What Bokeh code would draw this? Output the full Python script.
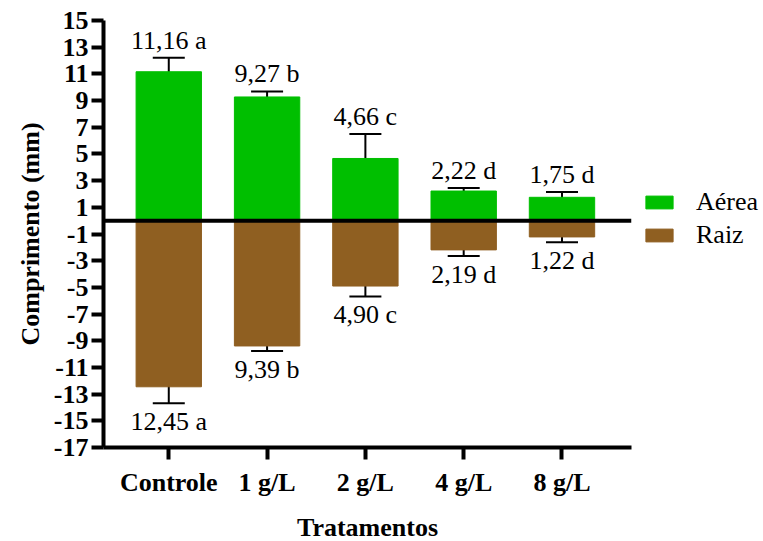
from bokeh.plotting import figure
from bokeh.models import (ColumnDataSource, Range1d, FixedTicker, Span, Whisker,
                          TeeHead, Legend, LegendItem)
from bokeh.core.properties import value
from bokeh.embed import file_html
from bokeh.resources import INLINE

categories = ["Controle", "1 g/L", "2 g/L", "4 g/L", "8 g/L"]
aerea = [11.16, 9.27, 4.66, 2.22, 1.75]
aerea_err = [1.04, 0.41, 1.83, 0.23, 0.40]
aerea_letters = ["a", "b", "c", "d", "d"]
raiz = [-12.45, -9.39, -4.90, -2.19, -1.22]
raiz_err = [1.23, 0.37, 0.78, 0.45, 0.39]
raiz_letters = ["a", "b", "c", "d", "d"]
y_ticks = [-17, -15, -13, -11, -9, -7, -5, -3, -1, 1, 3, 5, 7, 9, 11, 13, 15]
y_tick_labels = ["-17", "-15", "-13", "-11", "-9", "-7", "-5", "-3", "-1",
                 "1", "3", "5", "7", "9", "11", "13", "15"]

GREEN = "#00bf00"
BROWN = "#8f5f21"
SERIF = "Liberation Serif"

xpos = list(range(len(categories)))

def fmt(v, letter):
    return ("%.2f" % abs(v)).replace(".", ",") + " " + letter

src_a = ColumnDataSource(dict(
    x=xpos, top=aerea,
    upper=[v + e for v, e in zip(aerea, aerea_err)],
    lower=[v - e for v, e in zip(aerea, aerea_err)],
    label=[fmt(v, l) for v, l in zip(aerea, aerea_letters)],
))
src_r = ColumnDataSource(dict(
    x=xpos, top=raiz,
    upper=[v + e for v, e in zip(raiz, raiz_err)],
    lower=[v - e for v, e in zip(raiz, raiz_err)],
    label=[fmt(v, l) for v, l in zip(raiz, raiz_letters)],
))

p = figure(frame_width=528, frame_height=427,
           x_range=Range1d(-0.664, 4.707), y_range=Range1d(-17, 15),
           output_backend="svg", toolbar_location=None,
           min_border_left=103, min_border_top=20, min_border_right=130,
           min_border_bottom=92)
p.background_fill_color = None
p.border_fill_color = "white"
p.outline_line_color = None
p.xgrid.visible = False
p.ygrid.visible = False

ra = p.vbar(x="x", top="top", bottom=0, width=0.665, source=src_a,
            fill_color=GREEN, line_color=GREEN)
rr = p.vbar(x="x", top="top", bottom=0, width=0.665, source=src_r,
            fill_color=BROWN, line_color=BROWN)

p.add_layout(Span(location=0, dimension="width", line_color="black", line_width=4))

for src in (src_a, src_r):
    w = Whisker(base="x", upper="upper", lower="lower", source=src,
                line_color="black", line_width=2,
                upper_head=TeeHead(size=32, line_width=2, line_color="black"),
                lower_head=TeeHead(size=32, line_width=2, line_color="black"))
    p.add_layout(w)

p.text(x="x", y="upper", text="label", source=src_a,
       text_font=value(SERIF), text_font_size="26px", text_color="black",
       text_align="center", text_baseline="bottom", y_offset=-3)
p.text(x="x", y="lower", text="label", source=src_r,
       text_font=value(SERIF), text_font_size="26px", text_color="black",
       text_align="center", text_baseline="top", y_offset=4)

# axes
p.xaxis.ticker = FixedTicker(ticks=xpos)
p.xaxis.major_label_overrides = {i: c for i, c in zip(xpos, categories)}
p.yaxis.ticker = FixedTicker(ticks=y_ticks)
p.yaxis.major_label_overrides = {t: s for t, s in zip(y_ticks, y_tick_labels)}
for ax in (p.xaxis[0], p.yaxis[0]):
    ax.axis_line_width = 4
    ax.axis_line_color = "black"
    ax.major_tick_line_width = 4
    ax.major_tick_line_color = "black"
    ax.major_tick_in = 0
    ax.major_tick_out = 12
    ax.minor_tick_line_color = None
    ax.major_label_text_font = SERIF
    ax.major_label_text_font_style = "bold"
    ax.major_label_text_font_size = "26px"
    ax.major_label_text_color = "black"
    ax.axis_label_text_font = SERIF
    ax.axis_label_text_font_style = "bold"
    ax.axis_label_text_font_size = "26px"
    ax.axis_label_text_color = "black"

p.xaxis.axis_label = "Tratamentos"
p.yaxis.axis_label = "Comprimento (mm)"
p.xaxis.major_label_standoff = 8
p.xaxis.axis_label_standoff = 13
p.yaxis.major_label_standoff = 3
p.yaxis.axis_label_standoff = 6

legend = Legend(items=[LegendItem(label="Aérea", renderers=[ra]),
                       LegendItem(label="Raiz", renderers=[rr])],
                location=(11, 197))
legend.background_fill_alpha = 0
legend.border_line_alpha = 0
legend.padding = 0
legend.margin = 0
legend.spacing = 3
legend.glyph_width = 34
legend.glyph_height = 16
legend.label_standoff = 20
legend.label_text_font = SERIF
legend.label_text_font_size = "26px"
legend.label_text_color = "black"
p.add_layout(legend, "right")

open("out.html", "w").write(file_html(p, INLINE))
